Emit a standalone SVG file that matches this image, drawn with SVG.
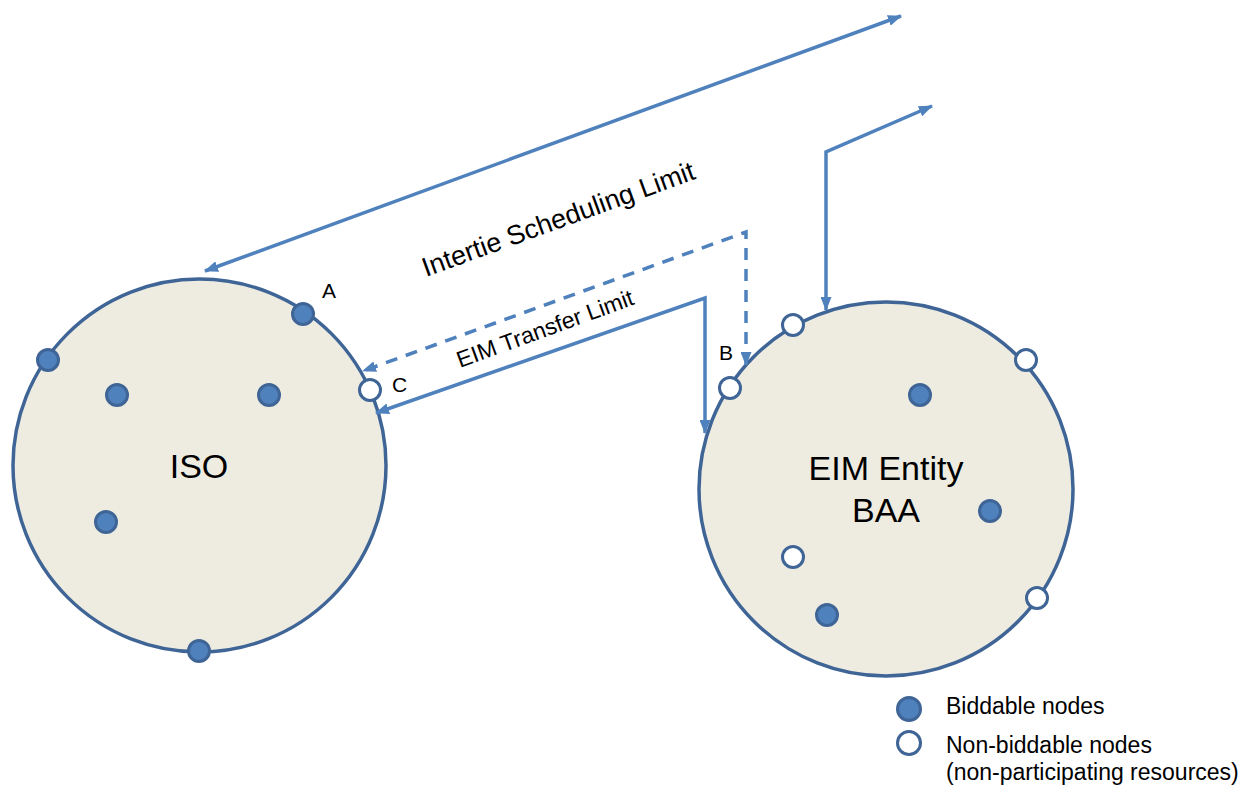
<svg xmlns="http://www.w3.org/2000/svg" width="1243" height="785" viewBox="0 0 1243 785">
<style>
.area{fill:#EEECE1;stroke:#3F6496;stroke-width:3.5}
.bid{fill:#4F81BD;stroke:#3F6496;stroke-width:3}
.non{fill:#FFFFFF;stroke:#3F6496;stroke-width:3}
.con{fill:none;stroke:#4F81BD;stroke-width:3.5;marker-start:url(#ah);marker-end:url(#ah)}
.dash{stroke-dasharray:12 9}
.t{font-family:"Liberation Sans",Arial,sans-serif;fill:#000}
</style>
<defs>
<marker id="ah" viewBox="0 0 14 11" refX="13" refY="5.5" markerWidth="14" markerHeight="11" markerUnits="userSpaceOnUse" orient="auto-start-reverse">
<path d="M0,0 L14,5.5 L0,11 z" fill="#4F81BD"/>
</marker>
</defs>
<rect width="1243" height="785" fill="#FFFFFF"/>
<g id="iso">
<circle class="area" cx="199.5" cy="465.5" r="186.5"/>
<text class="t" x="199" y="478" font-size="34" text-anchor="middle">ISO</text>
<circle class="bid" cx="48" cy="360" r="10.5"/>
<circle class="bid" cx="117" cy="395" r="10.5"/>
<circle class="bid" cx="269" cy="395" r="10.5"/>
<circle class="bid" cx="303" cy="314" r="10.5"/>
<circle class="bid" cx="106" cy="522" r="10.5"/>
<circle class="bid" cx="199" cy="651" r="10.5"/>
<circle class="non" cx="370" cy="390" r="10.5"/>
<text class="t" x="322" y="298" font-size="21">A</text>
<text class="t" x="392" y="392" font-size="21">C</text>
</g>
<g id="eim">
<circle class="area" cx="886" cy="489" r="187"/>
<text class="t" x="886" y="480" font-size="34" text-anchor="middle">EIM Entity</text>
<text class="t" x="886" y="522" font-size="34" text-anchor="middle">BAA</text>
<circle class="non" cx="793" cy="325" r="10.5"/>
<circle class="non" cx="1026" cy="360" r="10.5"/>
<circle class="non" cx="730" cy="388" r="10.5"/>
<circle class="bid" cx="920" cy="395" r="10.5"/>
<circle class="bid" cx="990" cy="511" r="10.5"/>
<circle class="non" cx="793" cy="557" r="10.5"/>
<circle class="bid" cx="827" cy="615" r="10.5"/>
<circle class="non" cx="1037" cy="598" r="10.5"/>
<text class="t" x="719" y="360" font-size="21">B</text>
</g>
<g id="connectors">
<path class="con" d="M205,271 L901,16"/>
<path class="con" d="M826,310 L826,152 L932,106"/>
<path class="con dash" d="M746,365 L746,232 L363,371"/>
<path class="con" d="M705,433 L705,298 L376,413"/>
</g>
<g id="labels">
<text class="t" x="426" y="277" font-size="27" transform="rotate(-20 426 277)">Intertie Scheduling Limit</text>
<text class="t" x="460" y="368" font-size="23" transform="rotate(-20 460 368)">EIM Transfer Limit</text>
</g>
<g id="legend">
<circle class="bid" cx="909" cy="709" r="11.5"/>
<circle class="non" cx="909" cy="743" r="11.5"/>
<text class="t" x="946" y="714" font-size="23">Biddable nodes</text>
<text class="t" x="946" y="753" font-size="23">Non-biddable nodes</text>
<text class="t" x="946" y="780" font-size="23">(non-participating resources)</text>
</g>
</svg>
